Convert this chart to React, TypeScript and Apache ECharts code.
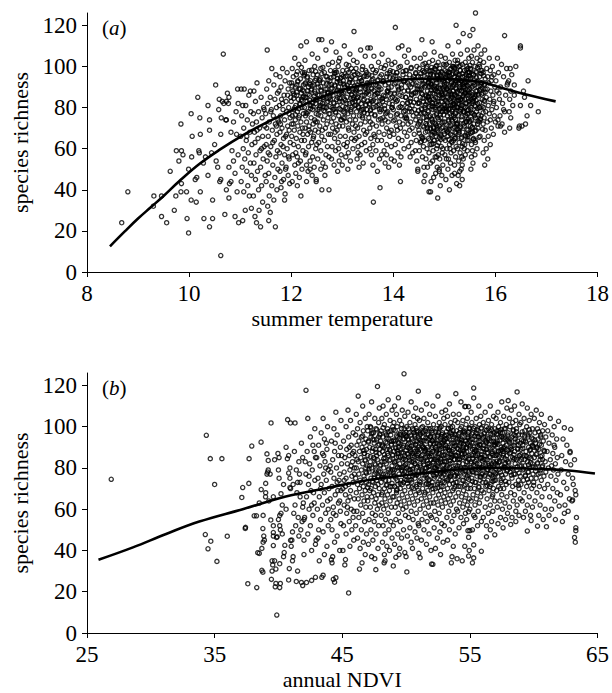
import React, { useEffect, useRef } from 'react';
import * as echarts from 'echarts';

const richnessTicks = [0, 20, 40, 60, 80, 100, 120];
const tempTicks = [8, 10, 12, 14, 16, 18];
const ndviTicks = [25, 35, 45, 55, 65];

// (a) summer temperature vs species richness
const tempLow = [
  [8.68,24],[8.8,39],[9.31,37],[9.3,32],[9.46,37],[9.46,27],[9.56,24],[9.63,49],[9.71,30],[9.74,37],[9.75,59],[9.85,59],[9.8,54],[9.84,72],[9.85,43],[9.84,39],[9.88,57],[9.95,39],[9.96,26],[9.99,19],[9.99,50],[10.04,77],[10.05,56],[10.04,35],[10.06,66],[10.12,45],[10.15,46],[10.14,34],[10.17,85],[10.19,59],[10.2,58],[10.21,75],[10.22,67],[10.22,39],[10.28,53],[10.29,26],[10.32,56],[10.37,81],[10.37,47],[10.4,22],[10.4,74],[10.4,69],[10.44,58],[10.46,26],[10.46,35],[10.5,62],[10.52,91],[10.53,54],[10.56,51],[10.59,84],[10.6,44],[10.62,8],[10.63,75],[10.62,67],[10.62,45],[10.65,83],[10.67,106],[10.7,28],[10.73,40],[10.73,83],[10.73,74],[10.75,87],[10.78,51],[10.78,36],[10.78,85],[10.79,43],[10.82,68],[10.82,44],[10.84,59],[10.87,73],[10.87,54],[10.9,27],[10.9,48],[10.93,67],[10.94,39],[10.95,89],[10.96,57],[10.97,24],[10.77,82],[10.68,82],[10.58,79],[10.92,78],[10.96,82],[10.72,74]
];
const tempMid1 = [
  [11.02,89],[11.08,89],[11.17,86],[11.05,81],[11.11,81],[11.21,78],[11.03,76],[11.14,74],[11.24,72],[11.07,70],[11.19,68],[11.01,66],[11.12,64],[11.23,62],[11.06,60],[11.16,58],[11.09,55],[11.2,53],[11.04,51],[11.13,49],[11.22,47],[11.02,44],[11.15,42],[11.07,39],[11.18,37],[11.1,30],[11.22,31],[11.05,25],[11.2,88],[11.13,66],
  [11.33,92],[11.27,88],[11.41,85],[11.3,83],[11.46,80],[11.36,78],[11.26,77],[11.43,75],[11.32,73],[11.48,71],[11.38,70],[11.28,68],[11.44,66],[11.35,65],[11.29,63],[11.47,61],[11.39,59],[11.31,57],[11.45,55],[11.27,53],[11.4,51],[11.34,49],[11.49,47],[11.3,45],[11.42,42],[11.36,40],[11.26,37],[11.44,34],[11.37,30],[11.29,27],[11.32,24],[11.4,22],[11.47,79],[11.33,69],[11.42,60],
  [11.53,108],[11.62,99],[11.7,96],[11.56,93],[11.66,91],[11.52,89],[11.73,87],[11.59,85],[11.68,84],[11.54,82],[11.71,80],[11.61,79],[11.5,77],[11.65,76],[11.74,74],[11.57,73],[11.69,72],[11.52,70],[11.63,69],[11.72,67],[11.55,66],[11.67,64],[11.51,62],[11.6,61],[11.73,59],[11.58,57],[11.7,56],[11.53,54],[11.64,52],[11.74,50],[11.56,48],[11.68,46],[11.51,44],[11.62,42],[11.72,40],[11.57,37],[11.66,35],[11.54,32],[11.59,29],[11.56,25],[11.69,22],[11.6,78],[11.71,71],[11.64,63],[11.55,58],
  [11.83,99],[11.92,97],[11.78,95],[11.88,93],[11.97,92],[11.8,90],[11.94,89],[11.76,88],[11.86,86],[11.99,85],[11.81,84],[11.9,83],[11.77,81],[11.95,80],[11.84,79],[11.91,78],[11.79,76],[11.98,75],[11.87,74],[11.76,73],[11.93,71],[11.82,70],[11.96,69],[11.78,68],[11.89,66],[11.85,65],[11.98,63],[11.8,62],[11.92,60],[11.77,58],[11.87,57],[11.96,55],[11.82,53],[11.9,51],[11.78,49],[11.94,47],[11.85,45],[11.97,43],[11.8,41],[11.88,38],[11.87,35],[11.93,86],[11.83,82],[11.96,77],[11.79,72],[11.91,67],[11.84,61],[11.95,56],[11.89,50],[11.81,44]
];
const tempMid2 = [
  [12.19,110],[12.07,104],[12.15,101],[12.02,99],[12.22,97],[12.1,96],[12.04,95],[12.18,94],[12.13,93],[12.01,92],[12.24,91],[12.08,90],[12.16,89],[12.03,88],[12.2,87],[12.11,86],[12.06,86],[12.23,85],[12.14,84],[12.0,83],[12.17,82],[12.09,81],[12.21,80],[12.05,79],[12.12,78],[12.24,77],[12.02,76],[12.15,75],[12.08,74],[12.19,73],[12.04,72],[12.13,71],[12.22,70],[12.06,69],[12.17,68],[12.01,66],[12.1,65],[12.2,64],[12.05,62],[12.14,61],[12.23,59],[12.03,57],[12.12,56],[12.18,54],[12.07,52],[12.21,50],[12.09,48],[12.16,46],[12.02,44],[12.12,42],[12.19,37],[12.11,91],[12.04,87],[12.2,84],[12.07,80],[12.16,76],[12.01,72],[12.23,67],[12.09,58],[12.14,53],
  [12.3,112],[12.41,106],[12.27,103],[12.46,100],[12.35,98],[12.26,97],[12.43,96],[12.32,95],[12.49,94],[12.38,93],[12.28,92],[12.45,91],[12.34,90],[12.4,89],[12.25,88],[12.47,87],[12.36,86],[12.29,85],[12.44,84],[12.31,83],[12.48,82],[12.37,81],[12.26,80],[12.42,79],[12.33,78],[12.49,77],[12.28,76],[12.39,75],[12.46,74],[12.3,73],[12.43,72],[12.35,71],[12.27,70],[12.47,69],[12.38,68],[12.32,67],[12.44,66],[12.26,64],[12.4,63],[12.34,61],[12.48,60],[12.29,58],[12.42,56],[12.37,54],[12.3,52],[12.45,51],[12.33,49],[12.41,47],[12.49,45],[12.3,44],[12.36,92],[12.46,88],[12.27,85],[12.39,81],[12.31,77],[12.48,73],[12.35,69],[12.43,65],[12.28,57],[12.37,50],
  [12.54,113],[12.6,113],[12.68,108],[12.52,104],[12.73,101],[12.58,99],[12.65,97],[12.51,96],[12.7,95],[12.56,93],[12.63,92],[12.74,91],[12.53,90],[12.67,89],[12.59,88],[12.71,87],[12.55,86],[12.64,85],[12.5,84],[12.72,83],[12.61,82],[12.57,81],[12.69,80],[12.52,79],[12.66,78],[12.74,77],[12.58,76],[12.63,74],[12.51,73],[12.7,72],[12.56,71],[12.67,70],[12.53,68],[12.73,67],[12.6,66],[12.65,64],[12.54,63],[12.71,61],[12.58,59],[12.68,57],[12.52,55],[12.62,53],[12.67,51],[12.58,50],[12.66,47],[12.49,44],[12.6,40],[12.57,94],[12.7,89],[12.62,85],[12.55,80],[12.72,75],[12.61,69],[12.5,62],[12.74,56],
  [12.79,112],[12.88,107],[12.95,104],[12.81,102],[12.92,100],[12.77,98],[12.86,97],[12.99,96],[12.83,95],[12.9,94],[12.76,93],[12.96,92],[12.85,91],[12.93,90],[12.78,89],[12.89,88],[12.98,87],[12.82,86],[12.91,85],[12.77,84],[12.95,83],[12.84,82],[12.9,81],[12.8,80],[12.97,79],[12.87,78],[12.76,77],[12.93,76],[12.83,75],[12.99,74],[12.79,73],[12.88,72],[12.94,71],[12.81,70],[12.9,69],[12.77,67],[12.96,66],[12.85,65],[12.92,63],[12.8,61],[12.87,59],[12.98,57],[12.79,55],[12.94,54],[12.84,52],[12.91,49],[12.74,40],[12.86,98],[12.95,93],[12.78,87],[12.89,84],[12.82,79],[12.97,74],[12.86,68],[12.93,60]
];
const tempMid3 = [
  [13.04,110],[13.15,106],[13.22,103],[13.08,101],[13.18,99],[13.01,98],[13.12,97],[13.24,96],[13.06,95],[13.16,94],[13.02,93],[13.2,92],[13.1,91],[13.05,90],[13.23,89],[13.13,88],[13.03,87],[13.19,86],[13.09,85],[13.21,84],[13.0,83],[13.14,82],[13.24,81],[13.07,80],[13.17,79],[13.02,78],[13.11,77],[13.22,76],[13.05,75],[13.15,74],[13.08,73],[13.2,72],[13.01,71],[13.13,69],[13.23,68],[13.06,66],[13.18,65],[13.1,63],[13.03,62],[13.21,60],[13.12,58],[13.07,56],[13.16,54],[13.0,52],[13.11,50],[13.19,95],[13.04,91],[13.14,88],[13.22,85],[13.09,82],[13.17,78],[13.02,75],[13.12,70],[13.24,64],[13.08,61],
  [13.23,117],[13.36,108],[13.45,105],[13.29,102],[13.4,100],[13.27,99],[13.48,97],[13.33,96],[13.42,95],[13.26,94],[13.38,93],[13.49,92],[13.3,91],[13.44,90],[13.35,89],[13.27,88],[13.47,87],[13.39,86],[13.31,85],[13.43,84],[13.25,83],[13.37,82],[13.46,81],[13.32,80],[13.41,79],[13.28,78],[13.49,77],[13.34,76],[13.4,75],[13.26,74],[13.45,73],[13.36,72],[13.3,70],[13.42,69],[13.48,68],[13.33,66],[13.27,65],[13.44,63],[13.38,62],[13.31,61],[13.47,59],[13.35,57],[13.29,55],[13.41,53],[13.33,51],[13.46,98],[13.37,93],[13.28,89],[13.43,86],[13.32,83],[13.48,79],[13.39,76],[13.26,71],[13.45,67],[13.31,58],
  [13.5,109],[13.55,109],[13.62,105],[13.71,102],[13.57,100],[13.67,98],[13.52,96],[13.74,95],[13.6,94],[13.69,93],[13.54,92],[13.65,91],[13.72,90],[13.58,89],[13.51,88],[13.68,87],[13.63,86],[13.73,85],[13.56,84],[13.66,83],[13.53,82],[13.7,81],[13.61,80],[13.74,78],[13.57,77],[13.64,76],[13.52,75],[13.71,74],[13.59,72],[13.67,71],[13.54,70],[13.72,68],[13.62,67],[13.56,65],[13.69,64],[13.6,62],[13.54,60],[13.66,59],[13.57,57],[13.73,55],[13.6,52],[13.69,49],[13.61,34],[13.65,97],[13.53,91],[13.7,87],[13.58,83],[13.73,79],[13.55,73],[13.64,66],
  [13.78,106],[13.9,103],[13.97,101],[13.82,99],[13.93,97],[13.77,96],[13.87,95],[13.99,94],[13.8,93],[13.91,92],[13.84,91],[13.96,90],[13.76,89],[13.88,88],[13.94,87],[13.81,86],[13.98,85],[13.86,84],[13.79,83],[13.92,82],[13.83,81],[13.97,80],[13.77,79],[13.89,78],[13.85,77],[13.95,76],[13.8,75],[13.9,73],[13.78,72],[13.87,70],[13.96,69],[13.82,67],[13.93,66],[13.77,64],[13.87,62],[13.96,61],[13.82,59],[13.77,57],[13.87,57],[13.96,55],[13.84,53],[13.91,51],[13.74,41],[13.94,98],[13.81,93],[13.89,88],[13.76,84],[13.98,80],[13.84,74],[13.92,68]
];
const tempHigh1 = [
  [14.04,119],[14.17,110],[14.1,109],[14.22,105],[14.03,102],[14.14,100],[14.24,98],[14.07,97],[14.19,96],[14.01,95],[14.12,94],[14.23,93],[14.05,92],[14.16,91],[14.09,90],[14.21,88],[14.02,87],[14.13,86],[14.24,85],[14.06,83],[14.18,82],[14.11,80],[14.0,79],[14.2,78],[14.08,77],[14.15,76],[14.23,75],[14.03,74],[14.12,73],[14.19,72],[14.06,71],[14.14,70],[14.22,68],[14.01,67],[14.1,65],[14.17,64],[14.04,62],[14.21,60],[14.09,58],[14.15,56],[14.02,54],[14.12,52],[14.14,44],[14.07,97],[14.2,93],[14.11,89],[14.04,84],[14.17,80],[14.24,76],[14.08,69],
  [14.3,108],[14.41,104],[14.27,102],[14.46,100],[14.35,99],[14.26,98],[14.44,97],[14.32,96],[14.49,95],[14.38,94],[14.28,92],[14.43,91],[14.34,90],[14.47,89],[14.29,88],[14.4,87],[14.36,86],[14.25,85],[14.45,84],[14.33,83],[14.48,82],[14.37,81],[14.27,80],[14.42,79],[14.31,78],[14.46,77],[14.39,76],[14.26,75],[14.44,74],[14.34,73],[14.29,72],[14.47,71],[14.37,70],[14.32,69],[14.41,67],[14.27,66],[14.45,64],[14.35,63],[14.3,61],[14.43,59],[14.38,58],[14.33,56],[14.46,54],[14.48,50],[14.4,95],[14.31,91],[14.44,87],[14.28,82],[14.36,78],[14.49,72],
  [14.56,113],[14.76,112],[14.62,106],[14.53,104],[14.7,102],[14.58,101],[14.66,100],[14.51,99],[14.73,98],[14.6,97],[14.68,96],[14.54,95],[14.71,94],[14.63,93],[14.52,93],[14.69,92],[14.57,91],[14.74,90],[14.61,90],[14.5,89],[14.67,88],[14.55,87],[14.72,87],[14.64,86],[14.53,85],[14.7,84],[14.59,83],[14.66,83],[14.51,82],[14.74,81],[14.62,80],[14.56,79],[14.69,78],[14.54,77],[14.72,76],[14.6,75],[14.65,74],[14.52,73],[14.71,72],[14.58,71],[14.67,70],[14.5,69],[14.63,68],[14.74,67],[14.55,66],[14.69,65],[14.61,64],[14.53,63],[14.72,62],[14.59,61],[14.66,60],[14.51,59],[14.7,58],[14.57,56],[14.64,55],[14.73,53],[14.67,51],[14.6,51],[14.48,49],[14.62,47],[14.6,44],[14.73,39],[14.58,98],[14.7,94],[14.55,89],[14.68,85],[14.62,81],[14.5,76],[14.73,70],[14.57,65],
  [14.8,107],[14.93,105],[14.77,103],[14.88,102],[14.98,101],[14.83,100],[14.91,99],[14.76,98],[14.96,97],[14.85,96],[14.79,96],[14.94,95],[14.87,94],[14.78,93],[14.99,93],[14.84,92],[14.92,91],[14.75,91],[14.89,90],[14.97,89],[14.81,89],[14.86,88],[14.95,87],[14.77,87],[14.9,86],[14.83,85],[14.98,85],[14.79,84],[14.88,83],[14.94,83],[14.76,82],[14.86,81],[14.99,81],[14.82,80],[14.91,79],[14.78,79],[14.96,78],[14.85,77],[14.8,76],[14.93,75],[14.87,75],[14.76,74],[14.97,73],[14.83,72],[14.9,71],[14.79,70],[14.95,70],[14.86,69],[14.77,68],[14.92,67],[14.84,66],[14.98,65],[14.8,64],[14.89,63],[14.75,62],[14.94,61],[14.85,60],[14.78,59],[14.96,58],[14.88,57],[14.82,56],[14.91,55],[14.77,54],[14.97,52],[14.86,51],[14.9,49],[14.83,48],[14.95,47],[14.74,44],[14.92,42],[14.7,39],[14.87,36],[14.81,99],[14.9,94],[14.78,90],[14.96,86],[14.84,82],[14.93,78],[14.77,73],[14.88,68],[14.8,64],[14.97,60],[14.85,56],[14.9,50],[14.79,46]
];
const tempHigh2 = [
  [15.23,120],[15.07,110],[15.16,106],[15.02,104],[15.21,103],[15.1,102],[15.04,101],[15.18,100],[15.13,99],[15.01,98],[15.24,97],[15.08,97],[15.15,96],[15.03,95],[15.2,95],[15.11,94],[15.06,93],[15.22,93],[15.14,92],[15.0,91],[15.19,91],[15.09,90],[15.24,89],[15.05,89],[15.17,88],[15.12,87],[15.02,87],[15.21,86],[15.07,85],[15.15,85],[15.1,84],[15.23,83],[15.04,83],[15.18,82],[15.13,81],[15.01,81],[15.2,80],[15.08,79],[15.16,79],[15.03,78],[15.22,77],[15.11,77],[15.06,76],[15.19,75],[15.14,74],[15.0,73],[15.24,72],[15.09,71],[15.17,70],[15.04,69],[15.21,68],[15.12,67],[15.07,66],[15.2,65],[15.02,64],[15.15,63],[15.1,62],[15.23,61],[15.05,60],[15.18,59],[15.13,58],[15.01,57],[15.22,56],[15.08,55],[15.12,53],[15.2,52],[15.07,50],[15.2,48],[15.15,47],[15.03,45],[15.24,43],[15.1,40],[15.16,100],[15.05,96],[15.22,92],[15.1,88],[15.19,84],[15.03,80],[15.14,76],[15.23,72],[15.06,68],[15.18,64],[15.11,60],[15.04,55],[15.2,99],[15.13,86],[15.08,74],[15.22,65],[15.01,90],[15.16,81],
  [15.37,116],[15.28,112],[15.45,108],[15.32,106],[15.48,104],[15.26,103],[15.41,102],[15.35,101],[15.29,100],[15.46,99],[15.39,98],[15.31,98],[15.49,97],[15.27,96],[15.43,96],[15.36,95],[15.25,94],[15.47,94],[15.33,93],[15.4,92],[15.28,92],[15.44,91],[15.38,90],[15.3,90],[15.49,89],[15.34,88],[15.26,88],[15.42,87],[15.37,86],[15.46,86],[15.29,85],[15.4,84],[15.32,84],[15.48,83],[15.27,82],[15.44,82],[15.35,81],[15.41,80],[15.25,80],[15.47,79],[15.31,78],[15.38,78],[15.45,77],[15.28,76],[15.43,75],[15.34,74],[15.49,73],[15.26,72],[15.39,71],[15.3,70],[15.46,69],[15.36,68],[15.27,67],[15.42,66],[15.33,65],[15.48,64],[15.29,63],[15.4,62],[15.35,61],[15.26,60],[15.45,59],[15.31,58],[15.41,57],[15.37,55],[15.28,54],[15.35,52],[15.33,50],[15.3,49],[15.27,47],[15.35,45],[15.3,42],[15.44,100],[15.3,96],[15.39,92],[15.47,88],[15.33,84],[15.26,80],[15.42,76],[15.37,72],[15.29,68],[15.45,64],[15.39,60],[15.34,56],[15.48,97],[15.27,85],[15.43,73],[15.36,91],[15.32,79],[15.46,67],[15.4,87],
  [15.61,126],[15.56,118],[15.5,115],[15.66,110],[15.58,108],[15.72,106],[15.53,105],[15.64,104],[15.7,103],[15.55,102],[15.68,101],[15.6,100],[15.51,99],[15.74,98],[15.63,97],[15.57,96],[15.69,95],[15.52,94],[15.66,93],[15.73,92],[15.59,91],[15.54,90],[15.71,89],[15.62,88],[15.5,87],[15.67,86],[15.58,85],[15.74,84],[15.55,83],[15.65,82],[15.6,81],[15.7,80],[15.52,79],[15.63,78],[15.56,77],[15.72,76],[15.61,75],[15.53,74],[15.68,73],[15.58,72],[15.51,71],[15.66,70],[15.62,69],[15.55,68],[15.7,66],[15.57,65],[15.6,64],[15.53,62],[15.64,60],[15.55,59],[15.6,57],[15.53,56],[15.56,53],[15.52,50],[15.69,100],[15.57,96],[15.73,92],[15.64,88],[15.52,84],[15.69,80],[15.59,76],[15.65,72],[15.54,68],[15.61,63],[15.72,98],[15.66,90],[15.54,82],[15.7,74],[15.62,86],[15.5,94],
  [15.79,108],[15.88,104],[15.77,102],[15.94,100],[15.83,99],[15.9,98],[15.76,97],[15.97,96],[15.85,95],[15.8,94],[15.92,93],[15.87,92],[15.78,91],[15.99,90],[15.84,89],[15.91,88],[15.76,87],[15.95,86],[15.82,85],[15.89,84],[15.79,83],[15.96,82],[15.86,81],[15.77,80],[15.93,79],[15.81,78],[15.88,77],[15.98,76],[15.78,75],[15.9,74],[15.84,73],[15.76,72],[15.92,70],[15.8,69],[15.96,67],[15.86,66],[15.78,64],[15.9,62],[15.82,60],[15.76,58],[15.85,55],[15.79,52],[15.93,95],[15.8,89],[15.97,83]
];
const tempHigh3 = [
  [16.18,115],[16.04,104],[16.12,101],[16.22,99],[16.06,97],[16.16,95],[16.01,93],[16.24,92],[16.1,90],[16.03,88],[16.2,86],[16.08,84],[16.14,82],[16.02,80],[16.18,78],[16.09,76],[16.05,74],[16.13,72],[16.1,71],[16.05,71],[16.18,68],[16.23,91],[16.07,87],[16.16,79],[16.0,73],
  [16.49,110],[16.49,109],[16.4,100],[16.29,99],[16.32,96],[16.26,93],[16.37,91],[16.3,88],[16.37,86],[16.28,84],[16.34,81],[16.27,78],[16.3,75],[16.47,71],[16.28,70],
  [16.64,93],[16.57,85],[16.49,81],[16.69,81],[16.84,78],[16.59,72],[16.52,71],[16.46,70],[16.55,88],[16.62,76]
];
const tempCore = [
  [12.05,84.5],[12.22,88.5],[12.38,79.5],[12.51,91.5],[12.66,86.5],[12.83,82.5],[12.97,94.5],[13.12,89.5],[13.28,84.5],[13.44,95.5],
  [12.13,92.5],[12.29,77.5],[12.45,85.5],[12.6,96.5],[12.76,80.5],[12.91,88.5],[13.06,83.5],[13.22,97.5],[13.37,78.5],[13.49,87.5],
  [12.08,76.5],[12.25,95.5],[12.41,90.5],[12.57,82.5],[12.72,93.5],[12.87,77.5],[13.02,91.5],[13.18,86.5],[13.33,92.5],[13.46,81.5],
  [12.17,81.5],[12.33,86.5],[12.48,97.5],[12.64,78.5],[12.8,89.5],[12.95,84.5],[13.1,79.5],[13.26,88.5],[13.41,83.5],[12.02,90.5],
  [12.2,99.5],[12.36,83.5],[12.53,76.5],[12.69,91.5],[12.85,96.5],[13.0,86.5],[13.15,93.5],[13.31,80.5],[13.47,90.5],[12.11,87.5],
  [12.27,91.5],[12.43,80.5],[12.58,88.5],[12.74,84.5],[12.9,92.5],[13.05,77.5],[13.2,82.5],[13.36,87.5],[12.15,79.5],[12.31,94.5],
  [12.47,83.5],[12.63,80.5],[12.78,94.5],[12.94,79.5],[13.09,95.5],[13.24,90.5],[13.39,98.5],[12.24,85.5],[12.55,93.5],[12.86,90.5],
  [13.17,84.5],[13.43,77.5],[12.39,88.5],[12.7,82.5],[13.01,80.5],[13.3,96.5],[12.12,97.5],[12.62,99.5],[13.13,100.5],[12.93,102.5],
  [13.52,86.5],[13.66,80.5],[13.8,92.5],[13.95,84.5],[14.1,88.5],[14.25,94.5],[14.4,82.5],[13.58,95.5],[13.72,88.5],[13.87,77.5],
  [14.02,91.5],[14.17,85.5],[14.32,79.5],[14.47,90.5],[13.55,78.5],[13.7,93.5],[13.84,85.5],[13.99,97.5],[14.14,80.5],[14.29,88.5],
  [14.44,96.5],[13.61,83.5],[13.76,99.5],[13.91,89.5],[14.06,76.5],[14.21,92.5],[14.36,86.5],[13.5,91.5],[13.64,76.5],[13.79,84.5],
  [13.93,94.5],[14.08,83.5],[14.23,78.5],[14.38,91.5],[13.57,89.5],[13.73,81.5],[13.88,96.5],[14.03,86.5],[14.19,97.5],[14.34,84.5],
  [14.49,78.5],[13.68,90.5],[13.83,79.5],[13.98,81.5],[14.13,93.5],[14.28,82.5],[14.43,87.5],[13.6,98.5],[13.85,100.5],[14.11,99.5],
  [14.35,99.5],[13.75,74.5],[14.0,73.5],[14.26,74.5],[13.54,81.5],[13.9,87.5],[14.16,89.5],[14.41,93.5],[13.65,86.5],[14.05,95.5],
  [12.21,83.2],[12.37,91.2],[12.52,86.2],[12.68,95.2],[12.84,79.2],[12.99,88.2],[13.14,92.2],[13.3,85.2],[13.45,89.2],[13.58,93.2],
  [12.26,96.2],[12.42,82.2],[12.58,90.2],[12.73,87.2],[12.89,97.2],[13.04,84.2],[13.19,80.2],[13.35,94.2],[13.5,83.2],[12.32,88.2],
  [12.47,93.2],[12.63,84.2],[12.79,91.2],[12.94,86.2],[13.09,98.2],[13.25,87.2],[13.4,91.2],[13.56,79.2],[12.18,89.2],[12.55,79.2],
  [12.91,94.2],[13.27,81.2],[13.62,88.2],[12.4,98.2],[12.76,85.2],[13.12,89.2],[13.48,95.2],[12.66,80.2],[13.02,95.2],[13.38,79.2]
];
const tempPeak = [
  [14.52,88.5],[14.66,71.5],[14.79,95.5],[14.93,64.5],[15.06,82.5],[15.19,99.5],[15.33,75.5],[15.46,90.5],[15.6,68.5],[15.73,86.5],
  [14.55,79.5],[14.69,92.5],[14.82,67.5],[14.96,84.5],[15.09,73.5],[15.22,96.5],[15.36,62.5],[15.49,81.5],[15.63,94.5],[15.76,77.5],
  [14.58,65.5],[14.72,83.5],[14.85,100.5],[14.99,76.5],[15.12,89.5],[15.25,69.5],[15.39,86.5],[15.52,98.5],[15.66,73.5],[15.79,91.5],
  [14.61,97.5],[14.75,74.5],[14.88,87.5],[15.02,94.5],[15.15,66.5],[15.28,83.5],[15.42,92.5],[15.55,70.5],[15.69,88.5],[14.5,82.5],
  [14.64,85.5],[14.78,62.5],[14.91,79.5],[15.05,71.5],[15.18,91.5],[15.31,100.5],[15.45,78.5],[15.58,84.5],[15.72,96.5],[14.53,73.5],
  [14.67,68.5],[14.81,90.5],[14.94,97.5],[15.08,86.5],[15.21,77.5],[15.34,65.5],[15.48,95.5],[15.61,80.5],[15.75,69.5],[14.56,93.5],
  [14.7,80.5],[14.84,76.5],[14.97,70.5],[15.11,98.5],[15.24,85.5],[15.37,91.5],[15.51,67.5],[15.64,92.5],[15.78,83.5],[14.59,77.5],
  [14.73,91.5],[14.87,84.5],[15.0,88.5],[15.14,63.5],[15.27,94.5],[15.4,72.5],[15.54,87.5],[15.67,76.5],[14.62,101.5],[14.76,66.5],
  [14.9,93.5],[15.03,78.5],[15.17,81.5],[15.3,88.5],[15.43,98.5],[15.57,64.5],[15.7,90.5],[14.65,75.5],[14.8,86.5],[14.95,72.5],
  [15.1,95.5],[15.23,67.5],[15.38,80.5],[15.5,85.5],[15.65,99.5],[14.57,86.5],[14.71,97.5],[14.86,61.5],[15.01,100.5],[15.16,73.5],
  [15.29,78.5],[15.44,69.5],[15.59,93.5],[15.74,80.5],[14.6,70.5],[14.74,88.5],[14.89,81.5],[15.04,91.5],[15.2,86.5],[15.35,96.5],
  [15.47,74.5],[15.62,83.5],[15.77,95.5],[14.54,96.5],[14.68,78.5],[14.83,98.5],[14.98,89.5],[15.13,84.5],[15.26,72.5],[15.41,87.5],
  [15.53,77.5],[15.68,65.5],[14.63,90.5],[14.77,80.5],[14.92,76.5],[15.07,68.5],[15.22,89.5],[15.36,83.5],[15.5,100.5],[15.66,86.5],
  [14.51,67.5],[14.66,94.5],[14.81,72.5],[14.96,93.5],[15.11,79.5],[15.26,101.5],[15.41,66.5],[15.56,90.5],[15.71,74.5],[14.58,84.5],
  [14.72,69.5],[14.87,95.5],[15.02,83.5],[15.17,96.5],[15.32,70.5],[15.47,84.5],[15.62,97.5],[14.69,85.5],[14.84,93.5],[14.99,68.5],
  [15.14,92.5],[15.29,81.5],[15.44,94.5],[15.59,76.5],[15.74,89.5],[14.55,63.5],[14.7,75.5],[14.85,89.5],[15.0,79.5],[15.15,86.5],
  [15.3,93.5],[15.45,88.5],[15.6,85.5],[14.64,81.5],[14.79,70.5],[14.94,86.5],[15.09,64.5],[15.24,80.5],[15.39,77.5],[15.54,96.5],
  [15.69,82.5],[14.6,91.5],[14.75,99.5],[14.9,65.5],[15.05,97.5],[15.2,70.5],[15.35,89.5],[15.5,73.5],[15.65,79.5],[15.8,87.5],
  [14.62,77.2],[14.74,93.2],[14.86,70.2],[14.98,86.2],[15.1,97.2],[15.22,74.2],[15.34,88.2],[15.46,66.2],[15.58,92.2],[14.68,85.2],
  [14.8,68.2],[14.92,96.2],[15.04,79.2],[15.16,90.2],[15.28,69.2],[15.4,95.2],[15.52,80.2],[14.65,99.2],[14.77,82.2],[14.89,74.2],
  [15.01,92.2],[15.13,71.2],[15.25,87.2],[15.37,78.2],[15.49,91.2],[14.71,64.2],[14.83,88.2],[14.95,80.2],[15.07,95.2],[15.19,83.2],
  [15.31,98.2],[15.43,73.2],[15.55,86.2],[14.64,72.2],[14.76,84.2],[14.88,97.2],[15.0,67.2],[15.12,81.2],[15.24,93.2],[15.36,85.2],
  [15.48,77.2],[14.7,90.2],[14.82,79.2],[14.94,66.2],[15.06,89.2],[15.18,76.2],[15.3,91.2],[15.42,82.2],[15.54,70.2],[14.73,96.2],
  [14.85,71.2],[14.97,94.2],[15.09,69.2],[15.21,99.2],[15.33,81.2],[15.45,97.2],[15.57,83.2],[14.91,89.2],[15.15,78.2],[15.39,90.2]
];
const tempFit = [
  [8.45,12.5],[8.75,20],[9.0,26],[9.25,31.5],[9.5,37],[9.8,44],[10.2,52.5],[10.6,59.5],[11.05,66.5],[11.5,72.5],[12.0,78.5],[12.3,82],[12.8,87],[13.3,90.5],[14.0,93],[14.5,94],[15.0,94],[15.5,93],[15.8,92],[16.0,90.5],[16.5,87],[17.18,83]
];

// (b) annual NDVI vs species richness
const ndviLow = [
  [26.9,74.5],[34.35,95.8],[34.66,84.5],[35.57,84.5],[35.0,72],[34.27,47.7],[34.48,40.8],[34.7,44.5],[35.18,34.7],[35.99,46.9],
  [37.13,65.7],[37.2,70.5],[37.42,51.2],[37.6,23.9],[37.68,72.5],[37.7,84.5],[37.91,90.6],[37.4,50.7],
  [38.38,38.9],[38.3,22],[38.28,56.8],[38.1,56.8],[38.64,92.5],[38.7,41],[38.8,44],[38.9,45],[38.78,29.5],[38.78,50.6],[38.8,57],[38.5,63],[38.65,69.5],[38.99,66],[38.5,38.6],[38.7,30.4],[38.85,47],
  [39.0,72.5],[39.1,77],[39.15,78],[39.2,79],[39.42,101.8],[39.96,87],[39.6,42.4],[39.5,35],[39.55,33],[39.5,30],[39.45,26],[39.6,52],[39.7,84],[39.6,66],[39.87,8.7],[39.8,24],[39.75,22.4],[39.9,46.6],[39.1,86.8],[39.2,83.6],[39.4,54.8],[39.6,48.7],[39.6,47],[39.85,46.3],[39.7,35],[39.8,31],[39.35,77],[39.0,68],[39.25,64],
  [40.0,55],[40.1,57],[40.2,58],[40.1,52],[40.15,50],[40.72,103.4],[40.94,101.8],[40.7,84.5],[40.8,86],[40.8,77.5],[40.9,75],[40.95,70],[40.05,85],[40.9,80],[40.0,79],[40.05,75],[40.2,67.5],[40.9,70.5],[40.1,33.6],[40.1,22],[40.15,24],[40.8,25.7],[40.4,37],[40.45,39],[40.85,31.2],[40.95,44.9],[40.5,42.5],[40.3,62],[40.6,60],[40.4,72],[40.6,90],[40.3,48],
  [41.3,101.8],[41.0,42],[41.05,45],[41.1,49],[41.1,35],[41.15,37],[41.4,25],[41.4,79],[41.5,30],[41.7,66],[41.9,61],[41.95,63],[41.9,23],[41.8,24.5],[41.5,73],[41.7,73],[41.6,47],[41.75,50],[41.85,54],[41.2,58],[41.3,62],[41.45,68],[41.6,83],[41.25,88],[41.8,92],[41.55,56],[41.35,52],[41.65,77],[41.9,85],[41.15,72]
];
const ndviMid1 = [
  [42.0,45],[42.0,55],[42.05,56],[42.1,83],[42.16,117.6],[42.2,24.5],[42.6,25.5],[42.9,27],[42.0,38],[42.6,40],[42.9,43],[42.95,45],[42.3,48],[42.5,52],[42.7,57],[42.4,60],[42.8,63],[42.2,66],[42.55,69],[42.35,72],[42.85,74],[42.15,77],[42.65,79],[42.45,82],[42.9,85],[42.25,88],[42.7,91],[42.5,95],[42.85,99],[42.3,104],[42.75,68],[42.6,62],[42.4,76],[42.8,88],
  [43.4,27],[43.5,28],[43.6,38],[43.2,35],[43.8,42],[43.1,46],[43.5,49],[43.9,52],[43.3,55],[43.7,58],[43.05,60],[43.45,62],[43.85,64],[43.2,66],[43.6,68],[43.95,70],[43.35,72],[43.75,74],[43.1,75],[43.55,77],[43.9,79],[43.25,81],[43.65,83],[43.0,85],[43.45,87],[43.8,89],[43.15,91],[43.6,94],[43.35,97],[43.85,100],[43.5,104],[43.7,80],[43.3,70],[43.9,60],[43.55,86],[43.15,50],[43.75,92],
  [44.3,26],[44.5,26.8],[44.2,34],[44.25,37],[44.15,35.5],[44.4,24.6],[44.4,44],[44.2,50],[44.8,40],[44.6,47],[44.9,53],[44.1,55],[44.5,57],[44.85,59],[44.3,61],[44.7,63],[44.05,65],[44.45,67],[44.9,69],[44.2,71],[44.6,73],[44.35,75],[44.8,77],[44.1,78],[44.55,80],[44.95,82],[44.25,84],[44.7,86],[44.4,88],[44.85,90],[44.15,93],[44.6,96],[44.35,99],[44.9,103],[44.5,107],[44.75,74],[44.05,81],[44.65,69],[44.3,58],[44.95,86],[44.45,92],[44.8,64],
  [45.25,35.6],[45.5,19.4],[45.2,33],[45.05,40],[45.6,42],[45.9,45],[45.3,48],[45.75,50],[45.1,52],[45.55,54],[45.85,56],[45.35,58],[45.7,60],[45.15,62],[45.45,64],[45.95,65],[45.25,67],[45.65,69],[45.05,70],[45.5,72],[45.85,73],[45.3,75],[45.75,76],[45.15,78],[45.6,79],[45.95,80],[45.4,82],[45.8,83],[45.2,85],[45.55,86],[45.9,88],[45.35,89],[45.7,91],[45.1,93],[45.5,95],[45.85,97],[45.3,100],[45.65,103],[45.45,108],[45.95,77],[45.25,71],[45.6,66],[45.8,87],[45.4,61],[45.7,81],[45.15,74],[45.55,90],[45.9,59]
];
const ndviMid2 = [
  [46.25,114.8],[46.6,110],[46.1,106],[46.8,104],[46.4,102],[46.95,100],[46.2,99],[46.65,98],[46.05,96],[46.5,95],[46.85,94],[46.3,93],[46.7,92],[46.15,91],[46.55,90],[46.9,89],[46.35,88],[46.75,87],[46.0,86],[46.45,85],[46.8,84],[46.25,83],[46.6,82],[46.95,81],[46.1,80],[46.5,79],[46.85,78],[46.3,77],[46.7,76],[46.05,75],[46.4,74],[46.9,73],[46.2,72],[46.65,71],[46.35,70],[46.8,69],[46.1,68],[46.55,67],[46.95,66],[46.25,65],[46.7,64],[46.45,62],[46.85,61],[46.15,59],[46.6,58],[46.3,56],[46.75,54],[46.05,52],[46.5,50],[46.9,48],[46.2,46],[46.65,44],[46.4,41],[46.8,38],[46.55,34],[46.35,31],[46.7,87],[46.15,84],[46.5,73],[46.85,80],
  [47.76,119.5],[47.3,112],[47.9,109],[47.1,106],[47.55,104],[47.85,102],[47.2,100],[47.65,99],[47.0,98],[47.45,97],[47.95,96],[47.25,95],[47.7,94],[47.05,93],[47.5,92],[47.8,91],[47.15,90],[47.6,89],[47.35,88],[47.9,87],[47.0,86],[47.45,85],[47.75,84],[47.2,83],[47.55,82],[47.95,81],[47.3,80],[47.65,79],[47.1,78],[47.5,77],[47.85,76],[47.25,75],[47.7,74],[47.4,73],[47.05,72],[47.6,71],[47.9,70],[47.15,69],[47.45,68],[47.8,67],[47.3,66],[47.65,65],[47.0,64],[47.55,63],[47.9,62],[47.2,61],[47.75,60],[47.35,58],[47.6,57],[47.1,55],[47.5,54],[47.85,52],[47.25,50],[47.65,48],[47.4,45],[47.05,43],[47.8,41],[47.63,30.7],[47.3,37],[47.55,36],[47.95,89],[47.4,94],[47.7,86],[47.15,81],[47.5,75],[47.85,95],[47.25,70],[47.6,78],[47.35,97],[47.8,72],
  [48.6,113],[48.2,110],[48.9,108],[48.45,106],[48.1,104],[48.75,103],[48.3,101],[48.95,100],[48.55,99],[48.05,98],[48.4,97],[48.8,96],[48.2,95],[48.65,94],[48.0,93],[48.5,92],[48.85,91],[48.3,90],[48.7,89],[48.15,88],[48.55,87],[48.95,86],[48.35,85],[48.75,84],[48.1,83],[48.45,82],[48.9,81],[48.25,80],[48.6,79],[48.0,78],[48.4,77],[48.8,76],[48.2,75],[48.65,74],[48.05,73],[48.5,72],[48.9,71],[48.3,70],[48.7,69],[48.15,68],[48.55,67],[48.95,66],[48.35,65],[48.75,64],[48.1,63],[48.45,62],[48.85,61],[48.25,60],[48.6,58],[48.05,57],[48.4,55],[48.8,54],[48.2,52],[48.65,50],[48.35,48],[48.9,46],[48.15,44],[48.5,42],[48.3,38],[48.35,35],[48.28,34],[48.7,40],[49.0,32.5],[48.45,96],[48.85,93],[48.15,91],[48.6,86],[48.3,83],[48.95,79],[48.4,74],[48.75,71],[48.1,67],[48.5,89],[48.2,77],[48.8,98],
  [49.84,125.6],[49.4,114],[49.1,110],[49.7,108],[49.25,106],[49.9,105],[49.5,103],[49.05,102],[49.65,101],[49.3,100],[49.85,99],[49.15,98],[49.55,97],[49.95,96],[49.35,95],[49.75,94],[49.0,93],[49.45,92],[49.8,91],[49.2,90],[49.6,89],[49.05,88],[49.4,87],[49.9,86],[49.25,85],[49.7,84],[49.1,83],[49.5,82],[49.85,81],[49.3,80],[49.65,79],[49.0,78],[49.45,77],[49.95,76],[49.2,75],[49.6,74],[49.8,73],[49.35,72],[49.1,71],[49.55,70],[49.9,69],[49.25,68],[49.7,67],[49.05,66],[49.45,65],[49.85,64],[49.3,63],[49.6,62],[49.15,61],[49.75,60],[49.4,58],[49.95,57],[49.2,55],[49.55,54],[49.0,52],[49.8,50],[49.35,48],[49.65,46],[49.1,43],[49.5,41],[49.9,39],[49.2,36.7],[49.45,38],[50.0,37],[49.6,96],[49.15,93],[49.75,90],[49.35,87],[49.95,84],[49.5,80],[49.05,76],[49.7,72],[49.25,69],[49.85,94],[49.4,90],[49.55,85],[49.1,79],[49.8,77],[49.3,74],[49.65,99]
];
const ndviMid3 = [
  [50.96,117.2],[50.4,112],[50.75,109],[50.15,107],[50.6,105],[50.9,104],[50.3,102],[50.7,101],[50.05,100],[50.5,99],[50.85,98],[50.25,97],[50.65,96],[50.0,95],[50.45,94],[50.8,93],[50.2,92],[50.55,91],[50.95,90],[50.35,89],[50.7,88],[50.1,87],[50.5,86],[50.85,85],[50.25,84],[50.6,83],[50.0,82],[50.4,81],[50.8,80],[50.15,79],[50.55,78],[50.9,77],[50.3,76],[50.7,75],[50.05,74],[50.45,73],[50.85,72],[50.2,71],[50.6,70],[50.95,69],[50.35,68],[50.75,67],[50.1,66],[50.5,65],[50.9,64],[50.25,63],[50.65,62],[50.0,61],[50.4,59],[50.8,58],[50.2,56],[50.55,55],[50.95,53],[50.3,51],[50.7,49],[50.1,47],[50.5,41],[50.06,29.6],[50.4,44],[50.85,46],[51.0,38.6],[50.6,97],[50.15,94],[50.75,91],[50.35,88],[50.9,86],[50.45,83],[50.05,80],[50.65,77],[50.25,74],[50.8,71],[50.4,96],[50.55,87],[50.1,90],[50.7,82],[50.3,79],[50.95,95],[50.5,76],[50.2,99],[50.85,89],
  [51.6,111],[51.2,108],[51.85,106],[51.4,104],[51.05,103],[51.7,102],[51.3,100],[51.95,99],[51.5,98],[51.1,97],[51.75,96],[51.35,95],[51.0,94],[51.6,93],[51.9,92],[51.25,91],[51.65,90],[51.05,89],[51.45,88],[51.8,87],[51.2,86],[51.55,85],[51.95,84],[51.35,83],[51.7,82],[51.1,81],[51.5,80],[51.85,79],[51.25,78],[51.6,77],[51.0,76],[51.4,75],[51.8,74],[51.15,73],[51.55,72],[51.9,71],[51.3,70],[51.7,69],[51.05,68],[51.45,67],[51.85,66],[51.2,65],[51.6,64],[51.95,63],[51.35,62],[51.75,61],[51.1,60],[51.5,58],[51.9,57],[51.25,55],[51.65,54],[51.0,52],[51.4,50],[51.8,48],[51.2,45],[51.6,43],[51.1,36.5],[51.95,40],[52.0,33.4],[51.3,97],[51.75,94],[51.15,92],[51.55,89],[51.95,87],[51.4,84],[51.85,81],[51.25,79],[51.65,75],[51.05,72],[51.5,68],[51.9,95],[51.35,90],[51.7,86],[51.1,82],[51.45,78],[51.8,99],[51.2,93],[51.6,80],[51.0,87],[51.75,72],
  [52.5,114.8],[52.1,110],[52.8,107],[52.3,105],[52.95,104],[52.6,102],[52.15,101],[52.75,100],[52.4,99],[52.0,98],[52.85,97],[52.5,96],[52.2,95],[52.7,94],[52.05,93],[52.45,92],[52.9,91],[52.3,90],[52.65,89],[52.1,88],[52.55,87],[52.95,86],[52.35,85],[52.75,84],[52.15,83],[52.5,82],[52.85,81],[52.25,80],[52.6,79],[52.0,78],[52.4,77],[52.8,76],[52.2,75],[52.65,74],[52.05,73],[52.45,72],[52.9,71],[52.3,70],[52.7,69],[52.1,68],[52.55,67],[52.95,66],[52.35,65],[52.75,64],[52.15,63],[52.5,62],[52.85,61],[52.25,59],[52.6,58],[52.0,56],[52.4,55],[52.8,53],[52.2,51],[52.65,49],[52.1,33.3],[52.45,46],[52.9,44],[52.3,41],[52.7,38],[52.55,97],[52.15,94],[52.85,92],[52.4,89],[52.0,86],[52.7,83],[52.3,80],[52.95,77],[52.5,73],[52.1,70],[52.8,95],[52.35,92],[52.65,87],[52.2,84],[52.9,79],[52.45,81],[52.05,90],[52.75,71],[52.6,99],[52.25,76],[52.5,85],
  [53.9,116],[53.4,111],[53.1,108],[53.7,106],[53.25,105],[53.85,103],[53.5,102],[53.05,101],[53.65,100],[53.3,99],[53.95,98],[53.55,97],[53.15,96],[53.75,95],[53.4,94],[53.0,93],[53.6,92],[53.9,91],[53.25,90],[53.7,89],[53.1,88],[53.5,87],[53.85,86],[53.35,85],[53.75,84],[53.05,83],[53.45,82],[53.9,81],[53.2,80],[53.6,79],[53.95,78],[53.35,77],[53.8,76],[53.15,75],[53.55,74],[53.0,73],[53.4,72],[53.85,71],[53.25,70],[53.65,69],[53.05,68],[53.45,67],[53.9,66],[53.3,65],[53.7,64],[53.1,63],[53.5,62],[53.95,60],[53.35,59],[53.75,57],[53.2,56],[53.6,54],[53.0,52],[53.4,50],[53.85,48],[53.6,37],[53.55,34],[53.25,45],[53.7,42],[53.45,97],[53.05,94],[53.8,92],[53.3,89],[53.65,86],[53.15,83],[53.95,80],[53.5,77],[53.2,74],[53.85,96],[53.4,90],[53.7,98],[53.1,91],[53.55,85],[53.25,81],[53.9,73],[53.6,88],[53.0,79],[53.75,70],[53.35,95],[53.45,76]
];
const ndviHigh1 = [
  [54.67,109.8],[54.3,112],[54.6,109.7],[54.9,109.7],[54.15,106],[54.8,104],[54.45,103],[54.05,102],[54.7,101],[54.35,100],[54.95,99],[54.55,98],[54.2,97],[54.85,96],[54.4,95],[54.0,94],[54.65,93],[54.25,92],[54.9,91],[54.5,90],[54.1,89],[54.75,88],[54.35,87],[54.95,86],[54.6,85],[54.2,84],[54.8,83],[54.45,82],[54.05,81],[54.7,80],[54.3,79],[54.9,78],[54.55,77],[54.15,76],[54.75,75],[54.4,74],[54.0,73],[54.65,72],[54.25,71],[54.85,70],[54.5,69],[54.1,68],[54.7,67],[54.35,66],[54.95,65],[54.6,64],[54.2,63],[54.8,62],[54.45,61],[54.05,59],[54.65,58],[54.9,58.8],[54.3,56],[54.75,55],[54.5,53],[54.15,51],[54.85,49.6],[54.9,46.4],[54.6,42],[54.9,37.3],[54.95,40],[54.4,35],[54.0,36],[54.55,97],[54.15,94],[54.8,92],[54.4,89],[54.0,86],[54.7,83],[54.3,80],[54.95,77],[54.5,74],[54.1,71],[54.85,95],[54.25,99],[54.6,87],[54.45,78],[54.75,90],[54.05,84],[54.35,92],
  [55.3,118.7],[55.3,113.9],[55.7,110],[55.1,107],[55.85,105],[55.5,104],[55.15,102],[55.75,101],[55.4,100],[55.0,99],[55.65,98],[55.25,97],[55.9,96],[55.55,95],[55.2,94],[55.8,93],[55.45,92],[55.05,91],[55.7,90],[55.35,89],[55.95,88],[55.6,87],[55.2,86],[55.85,85],[55.5,84],[55.1,83],[55.75,82],[55.4,81],[55.0,80],[55.65,79],[55.3,78],[55.9,77],[55.55,76],[55.15,75],[55.8,74],[55.45,73],[55.05,72],[55.7,71],[55.35,70],[55.95,69],[55.6,68],[55.25,67],[55.85,66],[55.5,65],[55.1,64],[55.75,63],[55.4,62],[55.0,60],[55.65,59],[55.3,57],[55.4,56],[55.6,52],[55.9,54],[55.2,50],[55.0,49.6],[55.3,42.7],[55.3,36.4],[55.2,34],[55.9,39.6],[55.5,97],[55.1,94],[55.75,91],[55.35,88],[55.95,85],[55.55,82],[55.15,79],[55.8,76],[55.4,73],[55.05,70],[55.65,95],[55.25,92],[55.9,99],[55.45,86],[55.7,80],[55.2,89],
  [56.6,110],[56.2,107],[56.85,105],[56.45,103],[56.05,102],[56.7,101],[56.3,100],[56.95,99],[56.55,98],[56.15,97],[56.8,96],[56.4,95],[56.0,94],[56.65,93],[56.25,92],[56.9,91],[56.5,90],[56.1,89],[56.75,88],[56.35,87],[56.95,86],[56.6,85],[56.2,84],[56.85,83],[56.45,82],[56.05,81],[56.7,80],[56.3,79],[56.9,78],[56.55,77],[56.15,76],[56.8,75],[56.4,74],[56.0,73],[56.65,72],[56.25,71],[56.85,70],[56.5,69],[56.1,68],[56.75,66],[56.35,65],[56.95,64],[56.6,62],[56.2,61],[56.8,59],[56.45,58],[56.05,56],[56.7,54],[56.3,52],[56.95,47.6],[56.3,46.6],[56.6,50],[56.9,97],[56.5,94],[56.1,91],[56.75,87],[56.35,84],[56.0,80],[56.6,77],[56.25,73],[56.85,93],[56.45,99],[56.15,86],[56.7,82],[56.3,89],[56.9,74],[56.55,71],[56.05,95],[56.4,79],[56.8,67]
];
const ndviHigh2 = [
  [57.5,112],[57.9,109],[57.2,107],[57.65,105],[57.05,104],[57.4,102],[57.85,101],[57.25,100],[57.7,99],[57.1,98],[57.55,97],[57.95,96],[57.35,95],[57.75,94],[57.15,93],[57.6,92],[57.0,91],[57.45,90],[57.85,89],[57.25,88],[57.65,87],[57.05,86],[57.5,85],[57.9,84],[57.3,83],[57.7,82],[57.15,81],[57.55,80],[57.95,79],[57.4,78],[57.8,77],[57.2,76],[57.6,75],[57.0,74],[57.45,73],[57.85,72],[57.25,71],[57.65,70],[57.1,69],[57.5,67],[57.9,66],[57.35,64],[57.75,63],[57.15,61],[57.55,60],[57.95,58],[57.4,56],[57.8,55],[57.2,53],[57.6,51],[57.3,98],[57.75,95],[57.1,92],[57.5,89],[57.9,86],[57.35,83],[57.7,80],[57.05,77],[57.45,74],[57.85,91],[57.2,96],[57.6,88],[57.0,82],[57.8,99],[57.4,70],
  [58.7,116.8],[58.0,112.6],[58.5,110],[58.25,108],[58.85,106],[58.1,104],[58.6,103],[58.35,102],[58.9,101],[58.15,100],[58.65,99],[58.4,98],[58.0,97],[58.8,96],[58.3,95],[58.55,94],[58.05,93],[58.95,92],[58.45,91],[58.2,90],[58.75,89],[58.5,88],[58.1,87],[58.85,86],[58.35,85],[58.65,84],[58.0,83],[58.55,82],[58.9,81],[58.25,80],[58.7,79],[58.15,78],[58.45,77],[58.95,76],[58.3,75],[58.8,74],[58.05,73],[58.6,72],[58.35,71],[58.85,70],[58.2,68],[58.5,67],[58.95,65],[58.4,64],[58.7,62],[58.1,61],[58.6,59],[58.85,57],[58.3,56],[58.2,52.6],[58.6,54],[58.45,96],[58.75,93],[58.25,89],[58.9,86],[58.05,80],[58.55,77],[58.4,84],[58.8,91],[58.15,94],
  [59.1,111],[59.5,109],[59.8,106],[59.25,104],[59.65,103],[59.0,102],[59.45,100],[59.9,99],[59.3,98],[59.7,97],[59.1,96],[59.55,95],[59.95,94],[59.35,93],[59.75,92],[59.15,91],[59.6,90],[59.0,89],[59.4,88],[59.85,87],[59.25,86],[59.65,85],[59.05,84],[59.5,83],[59.9,82],[59.3,81],[59.7,80],[59.15,79],[59.55,78],[59.95,77],[59.35,76],[59.8,75],[59.2,74],[59.6,73],[59.0,72],[59.45,71],[59.85,70],[59.25,68],[59.65,66],[59.1,64],[59.5,62],[59.9,61],[59.35,59],[59.75,57],[59.2,56],[59.5,49.4],[59.8,54.5],[59.55,96],[59.2,93],[59.75,89],[59.4,86],[59.05,81],[59.6,78],[59.9,91],[59.3,84]
];
const ndviHigh3 = [
  [60.2,108],[60.6,106],[60.05,104],[60.45,102],[60.85,101],[60.3,99],[60.7,98],[60.1,97],[60.55,96],[60.95,95],[60.35,94],[60.75,93],[60.15,92],[60.6,91],[60.0,90],[60.4,89],[60.85,88],[60.25,87],[60.65,86],[60.05,85],[60.5,84],[60.9,83],[60.3,82],[60.7,81],[60.15,80],[60.55,79],[60.95,78],[60.35,77],[60.8,76],[60.2,75],[60.6,74],[60.0,73],[60.45,71],[60.85,70],[60.25,68],[60.65,66],[60.1,64],[60.5,62],[60.3,51.8],[60.9,60],[60.4,57],[60.75,55],[60.55,95],[60.25,90],[60.7,84],
  [61.95,102.6],[61.3,104],[61.6,100],[61.1,98],[61.45,96],[61.8,94],[61.2,92],[61.65,90],[61.05,88],[61.5,87],[61.85,85],[61.3,84],[61.7,82],[61.15,80],[61.55,79],[61.9,77],[61.35,76],[61.75,74],[61.1,72],[61.5,70],[61.85,68],[61.25,66],[61.65,64],[61.0,51.5],[61.7,55],[62.0,61.5],[61.4,60],[61.2,57],[61.6,91],[61.4,81],
  [62.4,99.5],[62.9,98.7],[62.85,88],[63.2,84],[62.9,81.5],[63.1,72],[63.05,75],[63.3,67],[63.25,69],[63.35,56],[63.3,51],[63.2,46.3],[63.26,44],[63.3,49.6],[63.0,64],[63.05,64.5],[62.4,58],[62.85,87.4],[62.3,94],[62.6,91],[62.2,86],[62.5,83],[62.15,79],[62.7,77],[62.35,73],[62.6,70],[62.1,67],[62.8,65],[62.45,62],[62.25,54],[62.7,59]
];
const ndviCore = [
  [46.7,88.5],[48.1,75.5],[49.5,94.5],[50.9,80.5],[52.3,97.5],[53.7,72.5],[55.1,86.5],[56.5,91.5],[57.9,78.5],[59.3,95.5],
  [47.0,70.5],[48.4,92.5],[49.8,84.5],[51.2,99.5],[52.6,76.5],[54.0,89.5],[55.4,95.5],[56.8,73.5],[58.2,87.5],[59.6,81.5],
  [47.3,96.5],[48.7,83.5],[50.1,72.5],[51.5,88.5],[52.9,93.5],[54.3,79.5],[55.7,70.5],[57.1,96.5],[58.5,84.5],[59.9,90.5],
  [47.6,81.5],[49.0,98.5],[50.4,90.5],[51.8,74.5],[53.2,85.5],[54.6,97.5],[56.0,83.5],[57.4,88.5],[58.8,71.5],[60.2,86.5],
  [47.9,91.5],[49.3,69.5],[50.7,95.5],[52.1,82.5],[53.5,99.5],[54.9,74.5],[56.3,92.5],[57.7,80.5],[59.1,97.5],[60.5,77.5],
  [46.9,77.5],[48.3,86.5],[49.7,78.5],[51.1,93.5],[52.5,70.5],[53.9,94.5],[55.3,81.5],[56.7,98.5],[58.1,92.5],[59.5,74.5],
  [47.2,85.5],[48.6,97.5],[50.0,88.5],[51.4,81.5],[52.8,89.5],[54.2,84.5],[55.6,90.5],[57.0,77.5],[58.4,98.5],[59.8,84.5],
  [47.5,93.5],[48.9,72.5],[50.3,83.5],[51.7,96.5],[53.1,78.5],[54.5,91.5],[55.9,99.5],[57.3,85.5],[58.7,80.5],[60.1,93.5],
  [47.8,75.5],[49.2,89.5],[50.6,98.5],[52.0,71.5],[53.4,88.5],[54.8,80.5],[56.2,76.5],[57.6,94.5],[59.0,86.5],[60.4,97.5],
  [46.6,95.5],[48.0,81.5],[49.4,85.5],[50.8,76.5],[52.2,91.5],[53.6,82.5],[55.0,93.5],[56.4,87.5],[57.8,73.5],[59.2,79.5],
  [47.1,79.5],[48.5,94.5],[49.9,74.5],[51.3,86.5],[52.7,84.5],[54.1,96.5],[55.5,77.5],[56.9,82.5],[58.3,90.5],[59.7,88.5],
  [47.4,89.5],[48.8,78.5],[50.2,93.5],[51.6,72.5],[53.0,95.5],[54.4,86.5],[55.8,84.5],[57.2,91.5],[58.6,95.5],[60.0,71.5],
  [47.7,98.5],[49.1,82.5],[50.5,79.5],[51.9,91.5],[53.3,74.5],[54.7,89.5],[56.1,96.5],[57.5,76.5],[58.9,83.5],[60.3,82.5],
  [46.8,83.5],[48.2,99.5],[49.6,91.5],[51.0,84.5],[52.4,79.5],[53.8,90.5],[55.2,73.5],[56.6,80.5],[58.0,88.5],[59.4,92.5],
  [47.05,92.5],[48.45,71.5],[49.85,96.5],[51.25,78.5],[52.65,99.5],[54.05,75.5],[55.45,88.5],[56.85,94.5],[58.25,76.5],[59.65,98.5],
  [47.35,73.5],[48.75,88.5],[50.15,86.5],[51.55,94.5],[52.95,81.5],[54.35,93.5],[55.75,79.5],[57.15,86.5],[58.55,92.5],[59.95,80.5],
  [47.65,87.5],[49.05,93.5],[50.45,70.5],[51.85,85.5],[53.25,92.5],[54.65,78.5],[56.05,89.5],[57.45,98.5],[58.85,77.5],[60.25,89.5],
  [47.95,96.5],[49.35,80.5],[50.75,91.5],[52.15,76.5],[53.55,86.5],[54.95,99.5],[56.35,71.5],[57.75,84.5],[59.15,89.5],[60.55,85.5],
  [46.75,74.5],[48.15,90.5],[49.55,72.5],[50.95,97.5],[52.35,87.5],[53.75,79.5],[55.15,96.5],[56.55,85.5],[57.95,93.5],[59.35,76.5],
  [47.25,99.5],[48.65,79.5],[50.05,95.5],[51.45,89.5],[52.85,73.5],[54.25,88.5],[55.65,92.5],[57.05,79.5],[58.45,86.5],[59.85,94.5],
  [47.55,84.5],[48.95,86.5],[50.35,77.5],[51.75,80.5],[53.15,97.5],[54.55,71.5],[55.95,86.5],[57.35,93.5],[58.75,89.5],[60.15,78.5],
  [47.85,78.5],[49.25,95.5],[50.65,85.5],[52.05,93.5],[53.45,83.5],[54.85,94.5],[56.25,81.5],[57.65,89.5],[59.05,93.5],[60.45,91.5],
  [48.25,84.5],[49.65,87.5],[51.05,73.5],[52.45,95.5],[53.85,76.5],[55.25,84.5],[56.65,96.5],[58.05,82.5],[59.45,85.5],[60.8,88.5],
  [48.55,76.5],[49.95,81.5],[51.35,97.5],[52.75,90.5],[54.15,82.5],[55.55,98.5],[56.95,88.5],[58.35,79.5],[59.75,82.5],[60.65,80.5],
  [48.85,91.5],[50.25,89.5],[51.65,83.5],[53.05,86.5],[54.45,97.5],[55.85,75.5],[57.25,82.5],[58.65,97.5],[52.55,82.5],[54.75,85.5]
];
const ndviCore2 = [
  [49.2,83.2],[50.1,91.2],[51.0,78.2],[51.9,95.2],[52.8,86.2],[53.7,92.2],[54.6,80.2],[55.5,88.2],[56.4,94.2],[57.3,79.2],
  [49.5,96.2],[50.4,74.2],[51.3,90.2],[52.2,80.2],[53.1,89.2],[54.0,77.2],[54.9,97.2],[55.8,91.2],[56.7,76.2],[57.6,86.2],
  [49.8,87.2],[50.7,82.2],[51.6,99.2],[52.5,93.2],[53.4,80.2],[54.3,94.2],[55.2,78.2],[56.1,84.2],[57.0,92.2],[49.1,76.2],
  [50.0,97.2],[50.9,88.2],[51.8,82.2],[52.7,77.2],[53.6,96.2],[54.5,88.2],[55.4,83.2],[56.3,98.2],[57.2,88.2],[49.4,92.2],
  [50.3,79.2],[51.2,84.2],[52.1,97.2],[53.0,83.2],[53.9,86.2],[54.8,76.2],[55.7,95.2],[56.6,89.2],[57.5,95.2],[49.7,80.2],
  [50.6,93.2],[51.5,76.2],[52.4,88.2],[53.3,99.2],[54.2,91.2],[55.1,82.2],[56.0,77.2],[56.9,91.2],[57.8,82.2],[50.2,85.2],
  [51.1,96.2],[52.0,89.2],[52.9,78.2],[53.8,84.2],[54.7,93.2],[55.6,86.2],[56.5,81.2],[57.4,97.2],[49.3,88.2],[50.8,99.2],
  [51.7,87.2],[52.6,91.2],[53.5,76.2],[54.4,85.2],[55.3,99.2],[56.2,93.2],[57.1,83.2],[49.9,78.2],[51.4,93.2],[52.3,84.2],
  [53.2,94.2],[54.1,87.2],[55.0,90.2],[55.9,80.2],[56.8,86.2],[57.7,90.2],[50.5,87.2],[52.8,96.2],[54.9,84.2],[56.4,79.2]
];
const ndviFit = [
  [25.9,35.5],[28.6,41.5],[31.2,48],[33.8,54],[37.2,60],[40.5,66],[44,70.5],[46.6,73.7],[49.2,76],[51.8,77.7],[54.5,79.5],[57,80],[59.4,79.7],[62.5,78.9],[64.8,77.3]
];

const FONT = '"Liberation Serif", "Times New Roman", Times, serif';

const tempPoints = [...tempLow, ...tempMid1, ...tempMid2, ...tempMid3, ...tempHigh1, ...tempHigh2, ...tempHigh3, ...tempCore, ...tempPeak];
const ndviPoints = [...ndviLow, ...ndviMid1, ...ndviMid2, ...ndviMid3, ...ndviHigh1, ...ndviHigh2, ...ndviHigh3, ...ndviCore, ...ndviCore2];

function yAxis(gridIndex: number) {
  return {
    gridIndex,
    type: 'value',
    min: 0,
    max: 126,
    name: 'species richness',
    nameLocation: 'middle',
    nameGap: 52,
    nameTextStyle: { fontFamily: FONT, fontSize: 22, color: '#000' },
    axisLine: { show: true, lineStyle: { color: '#000', width: 1 } },
    axisTick: { show: true, length: 5, customValues: richnessTicks, lineStyle: { color: '#000', width: 1 } },
    axisLabel: { customValues: richnessTicks, fontFamily: FONT, fontSize: 23, color: '#000', margin: 10 },
    splitLine: { show: false },
  };
}

function xAxis(gridIndex: number, ticks: number[], name: string) {
  return {
    gridIndex,
    type: 'value',
    min: ticks[0],
    max: ticks[ticks.length - 1],
    interval: ticks[1] - ticks[0],
    name,
    nameLocation: 'middle',
    nameGap: 35,
    nameTextStyle: { fontFamily: FONT, fontSize: 22, color: '#000' },
    axisLine: { show: true, onZero: false, lineStyle: { color: '#000', width: 1 } },
    axisTick: { show: true, length: 5, lineStyle: { color: '#000', width: 1 } },
    axisLabel: { fontFamily: FONT, fontSize: 23, color: '#000', margin: 10 },
    splitLine: { show: false },
  };
}

const pointStyle = { color: 'rgba(0,0,0,0)', borderColor: '#000', borderWidth: 1.3 };

const option = {
  animation: false,
  backgroundColor: '#fff',
  title: [
    {
      text: '({i|a})',
      left: 97,
      top: 12,
      textStyle: { fontFamily: FONT, fontSize: 21, fontWeight: 'normal', color: '#000', rich: { i: { fontFamily: FONT, fontSize: 21, fontStyle: 'italic', color: '#000' } } },
    },
    {
      text: '({i|b})',
      left: 97,
      top: 372,
      textStyle: { fontFamily: FONT, fontSize: 21, fontWeight: 'normal', color: '#000', rich: { i: { fontFamily: FONT, fontSize: 21, fontStyle: 'italic', color: '#000' } } },
    },
  ],
  grid: [
    { left: 87, top: 13, width: 512, height: 259 },
    { left: 87, top: 373, width: 512, height: 260 },
  ],
  xAxis: [xAxis(0, tempTicks, 'summer temperature'), xAxis(1, ndviTicks, 'annual NDVI')],
  yAxis: [yAxis(0), yAxis(1)],
  series: [
    { type: 'scatter', xAxisIndex: 0, yAxisIndex: 0, data: tempPoints, symbol: 'circle', symbolSize: 4.2, itemStyle: pointStyle, silent: true, z: 2 },
    { type: 'line', xAxisIndex: 0, yAxisIndex: 0, data: tempFit, smooth: 0.4, symbol: 'none', lineStyle: { color: '#000', width: 2.6 }, silent: true, z: 3 },
    { type: 'scatter', xAxisIndex: 1, yAxisIndex: 1, data: ndviPoints, symbol: 'circle', symbolSize: 4.2, itemStyle: pointStyle, silent: true, z: 2 },
    { type: 'line', xAxisIndex: 1, yAxisIndex: 1, data: ndviFit, smooth: 0.4, symbol: 'none', lineStyle: { color: '#000', width: 2.6 }, silent: true, z: 3 },
  ],
};

export default function App() {
  const ref = useRef<HTMLDivElement>(null);
  useEffect(() => {
    if (!ref.current) return;
    const chart = echarts.init(ref.current, null, { renderer: 'svg' });
    chart.setOption(option as any);
    return () => chart.dispose();
  }, []);
  return <div ref={ref} style={{ position: 'absolute', left: 0, top: 0, width: 612, height: 693, background: '#fff' }} />;
}
